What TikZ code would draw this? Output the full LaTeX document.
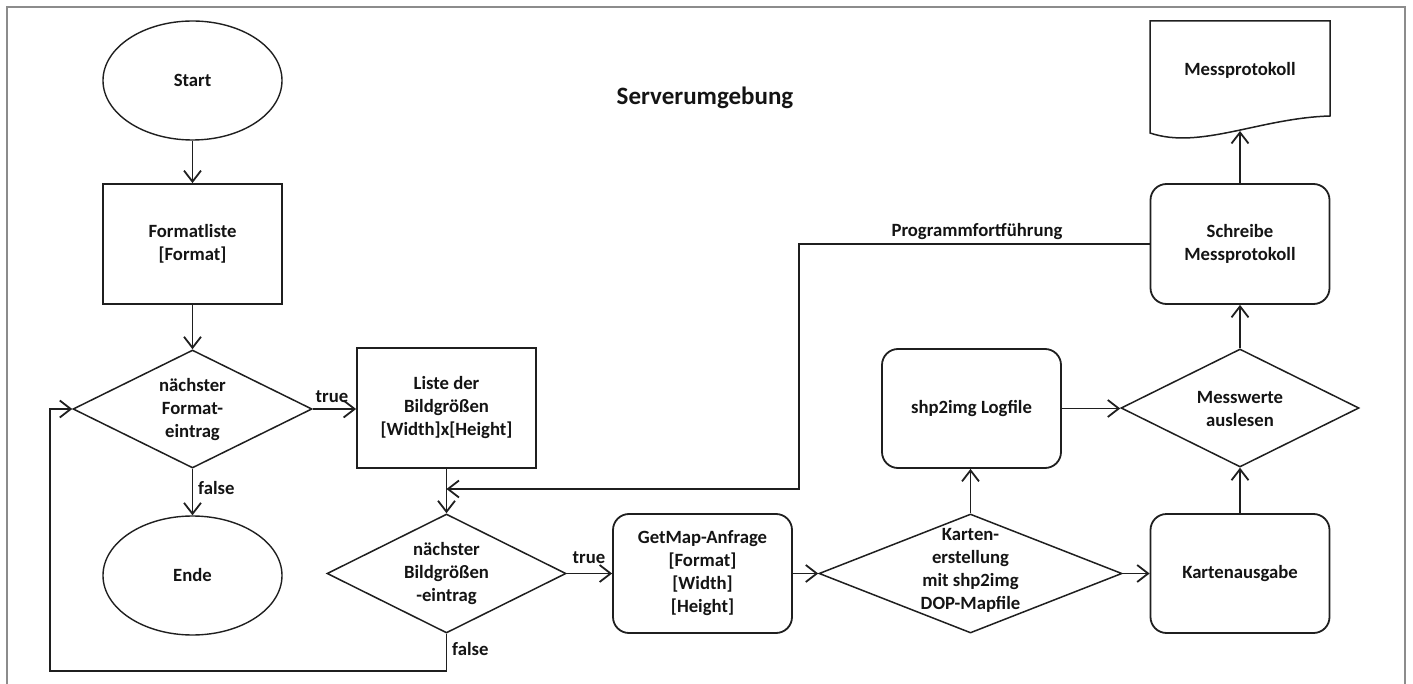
\documentclass[tikz,border=0pt]{standalone}
\usepackage{fontspec}
\setmainfont{Carlito}
\usetikzlibrary{shapes.geometric,arrows.meta}
\begin{document}
\begin{tikzpicture}[x=1pt,y=-1pt,
  every node/.style={font=\fontsize{18.7}{23}\selectfont\bfseries, align=center, text=black!92},
  ln/.style={line width=1.8pt, draw=black!88},
  arr/.style={ln, -{Straight Barb[length=11pt,width=17pt,line width=1.8pt]}},
  box/.style={draw=black!88, line width=1.8pt, rectangle, minimum width=179pt, minimum height=120pt, inner sep=2pt},
  rbox/.style={box, rounded corners=16pt, minimum height=119pt},
  term/.style={draw=black!88, line width=1.4pt, ellipse, minimum width=179pt, minimum height=119pt},
  dia/.style={draw=black!88, line width=1.5pt, diamond, aspect=1, inner sep=0pt},
  lbl/.style={inner sep=0pt}
]
\useasboundingbox (0,0) rectangle (1413,684);
\draw[line width=2pt, draw=black!45] (7,684) -- (7,7) -- (1405,7) -- (1405,684);

\node[font=\fontsize{25}{30}\selectfont\bfseries] (title) at (705,98) {Serverumgebung};

\node[term] (start) at (192.5,80.5) {Start};
\node[box] (fmt) at (192.5,244) {Formatliste\\{}[Format]};
\node[dia, minimum width=239pt, minimum height=118pt] (d1) at (192.5,409) {};
\node (d1t) at (192.5,410) {nächster\\Format-\\eintrag};
\node[box] (liste) at (446.5,408) {Liste der\\Bildgrößen\\{}[Width]x[Height]};
\node[term] (ende) at (192.5,575.5) {Ende};
\node[dia, minimum width=239pt, minimum height=119pt] (d2) at (446.5,573.5) {};
\node (d2t) at (446.5,574) {nächster\\Bildgrößen\\-eintrag};
\node[rbox] (getmap) at (702.5,573.5) {GetMap-Anfrage\\{}[Format]\\{}[Width]\\{}[Height]};
\node[dia, minimum width=303pt, minimum height=119pt] (d3) at (970.5,573.5) {};
\node (d3t) at (970.5,570) {Karten-\\erstellung\\mit shp2img\\DOP-Mapfile};
\node[rbox] (shp) at (971.5,408.5) {shp2img Logfile};
\node[rbox] (karten) at (1240,573.5) {Kartenausgabe};
\node[dia, minimum width=238pt, minimum height=118pt] (d4) at (1240,408) {};
\node (d4t) at (1240,409) {Messwerte\\auslesen};
\node[rbox, minimum height=120pt] (schreibe) at (1240,244) {Schreibe\\Messprotokoll};

\draw[ln, line width=1.5pt] (1150,133) .. controls (1200,150) and (1260,118) .. (1330,116) -- (1330,21) -- (1150,21) -- cycle;
\node (doc) at (1240,70) {Messprotokoll};
\coordinate (docb) at (1240,131);

\draw[arr] (start) -- (fmt);
\draw[arr] (fmt) -- (d1);
\draw[arr] (d1.east) -- (d1.east -| liste.west);
\draw[arr] (d1) -- (ende);
\draw[arr] (liste) -- (d2);
\draw[arr] (d2.east) -- (d2.east -| getmap.west);
\draw[arr] (getmap) -- (d3);
\draw[arr] (d3.north) -- (d3.north |- shp.south);
\draw[arr] (d3) -- (karten);
\draw[arr] (shp.east) -- (shp.east -| d4.west);
\draw[arr] (karten) -- (d4);
\draw[arr] (d4) -- (schreibe);
\draw[arr] (schreibe.north) -- (docb);

\coordinate (lpA) at (446.5,671);
\coordinate (lpB) at (50,671);
\coordinate (lpC) at (50,409);
\draw[arr] (d2.south) -- (lpA) -- (lpB) -- (lpC) -- (d1.west);

\coordinate (rtA) at (799,244);
\coordinate (rtB) at (799,489);
\coordinate (rtC) at (446.5,489);
\draw[arr] (schreibe.west) -- (rtA) -- (rtB) -- (rtC);

\node[lbl] (t1) at (332,397) {true};
\node[lbl, anchor=west] (f1) at (198,488) {false};
\node[lbl] (t2) at (589,558) {true};
\node[lbl, anchor=west] (f2) at (452,649) {false};
\node[lbl] (prog) at (977,232) {Programmfortführung};
\end{tikzpicture}
\end{document}
